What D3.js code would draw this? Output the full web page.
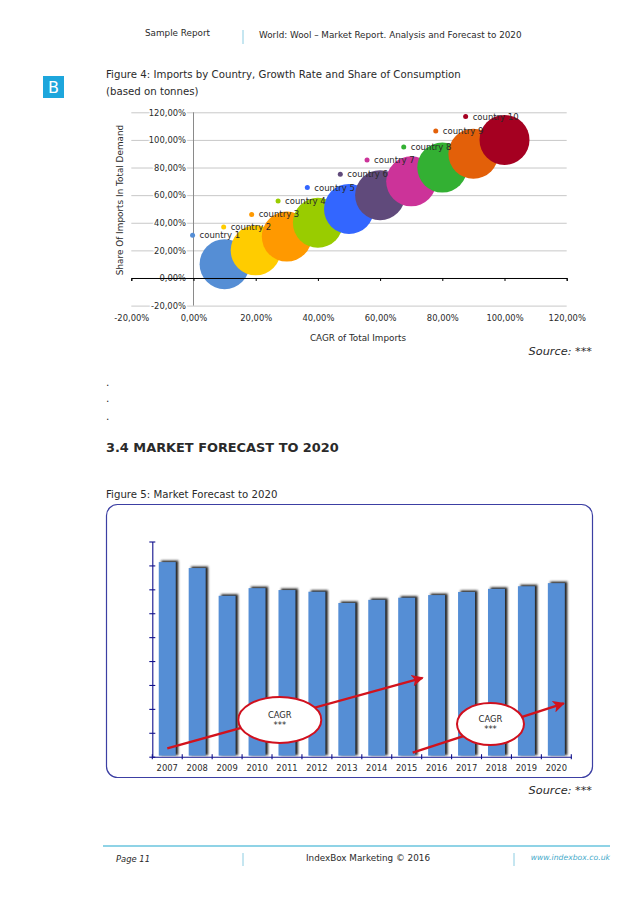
<!DOCTYPE html>
<html>
<head>
<meta charset="utf-8">
<script src="https://cdn.jsdelivr.net/npm/d3@7"></script>
<style>
html,body{margin:0;padding:0;background:#fff}
svg{display:block}
text{font-family:"DejaVu Sans",sans-serif;fill:#2a2a2a}
</style>
</head>
<body>
<script>
// bubble chart
var countries = ["country 1","country 2","country 3","country 4","country 5","country 6","country 7","country 8","country 9","country 10"];
var cagrImports = [10,20,30,40,50,60,70,80,90,100];
var shareDemand = [10,20,30,40,50,60,70,80,90,100];
var labelX = [-0.3,9.7,18.7,27.2,36.6,47.2,55.8,67.6,77.9,87.5];
var labelY = [31,37,46,55.7,65.5,75.2,85.4,94.8,106.5,116.9];
var bubbleColors = ["#558ed5","#ffcc00","#ff9900","#99cc00","#3366ff","#604a7b","#cc3399","#33b033","#e36009","#a50021"];
var pctTicks = [-20,0,20,40,60,80,100,120];

// forecast chart
var years = [2007,2008,2009,2010,2011,2012,2013,2014,2015,2016,2017,2018,2019,2020];
var volumes = [8.14,7.89,6.73,7.05,6.97,6.9,6.43,6.56,6.65,6.76,6.89,7.02,7.13,7.26];
var volumeTicks = [0,1,2,3,4,5,6,7,8,9];
var cagrArrowYears = [[2007,2015.53],[2015.2,2020.25]];
var cagrArrowValues = [[0.35,3.3],[0.17,2.23]];
var cagrBadgeYears = [2010.76,2017.8];
var cagrBadgeValues = [1.54,1.37];

var svg = d3.select("body").append("svg").attr("width",638).attr("height",903);

function txt(x,y,s,size,o){
    o = o||{};
    return svg.append("text").attr("x",x).attr("y",y).text(s)
        .style("font-size",size+"px")
        .style("font-style",o.italic?"italic":null)
        .style("font-weight",o.bold?"bold":null)
        .style("fill",o.fill||null)
        .attr("text-anchor",o.anchor||"start");
}
function sep(x,y1,y2){
    svg.append("line").attr("x1",x).attr("x2",x).attr("y1",y1).attr("y2",y2).attr("stroke","#8ccde2").attr("stroke-width",1);
}

// page furniture
txt(145,36,"Sample Report",8.8);
sep(243,30,44);
txt(259,38,"World: Wool – Market Report. Analysis and Forecast to 2020",8.8);
svg.append("rect").attr("x",43).attr("y",76).attr("width",21).attr("height",22).attr("fill","#1da6dc");
txt(53.5,93,"B",16,{anchor:"middle",fill:"#fff"});
txt(106,78,"Figure 4: Imports by Country, Growth Rate and Share of Consumption",10.2);
txt(106,95,"(based on tonnes)",10.2);
txt(592,355,"Source: ***",11.3,{anchor:"end",italic:true});
txt(106,386,".",10.5);
txt(106,402,".",10.5);
txt(106,420,".",10.5);
txt(106,452,"3.4 MARKET FORECAST TO 2020",12.9,{bold:true});
txt(106,498,"Figure 5: Market Forecast to 2020",10.2);
txt(592,794,"Source: ***",11.3,{anchor:"end",italic:true});
svg.append("line").attr("x1",103).attr("x2",610).attr("y1",846).attr("y2",846).attr("stroke","#8fd3e6").attr("stroke-width",2);
txt(116,862,"Page 11",8.4,{italic:true});
sep(243,853,866);
txt(368,861,"IndexBox Marketing © 2016",8.8,{anchor:"middle"});
sep(514,853,866);
txt(610,860,"www.indexbox.co.uk",7.7,{anchor:"end",italic:true,fill:"#3fa9c9"});

// ---- figure 4
var x = d3.scaleLinear().domain([-20,120]).range([131.3,566.7]);
var y = d3.scaleLinear().domain([-20,120]).range([305.6,112.3]);
var pct = function(d){return d.toFixed(2).replace(".",",")+"%"};

var grid = svg.append("g").attr("transform","translate("+x(-20)+",0)")
    .call(d3.axisLeft(y).tickValues(pctTicks).tickSize(-(x(120)-x(-20))).tickFormat(""));
grid.select(".domain").remove();
grid.selectAll("line").attr("stroke","#c8c8c8");

svg.append("line").attr("x1",x(0)).attr("x2",x(0)).attr("y1",y(120)).attr("y2",y(-20)).attr("stroke","#8a8a8a");

var yLabels = svg.append("g").attr("transform","translate("+(x(0)-7.5)+",0)")
    .call(d3.axisLeft(y).tickValues(pctTicks).tickSize(0).tickFormat(pct));
yLabels.select(".domain").remove();
yLabels.selectAll("text").style("font-size","8.4px").attr("x",0)
    .style("paint-order","stroke").style("stroke","#fff").style("stroke-width","3px");

var xLabels = svg.append("g").attr("transform","translate(0,"+(y(-20)+6)+")")
    .call(d3.axisBottom(x).tickValues(pctTicks).tickSize(0).tickFormat(pct));
xLabels.select(".domain").remove();
xLabels.selectAll("text").style("font-size","8.4px");

svg.selectAll("circle.bubble").data(countries).enter().append("circle").attr("class","bubble")
    .attr("cx",function(d,i){return x(cagrImports[i])})
    .attr("cy",function(d,i){return y(shareDemand[i])})
    .attr("r",25)
    .attr("fill",function(d,i){return bubbleColors[i]});

var xAxis = svg.append("g").attr("transform","translate(0,"+y(0)+")")
    .call(d3.axisBottom(x).tickValues(pctTicks).tickSize(3).tickSizeOuter(3).tickFormat(""));
xAxis.selectAll("path,line").attr("stroke","#000");

svg.selectAll("circle.dot").data(countries).enter().append("circle").attr("class","dot")
    .attr("cx",function(d,i){return x(labelX[i])})
    .attr("cy",function(d,i){return y(labelY[i])})
    .attr("r",2.5)
    .attr("fill",function(d,i){return bubbleColors[i]});
svg.selectAll("text.lab").data(countries).enter().append("text").attr("class","lab")
    .attr("x",function(d,i){return x(labelX[i])+7})
    .attr("y",function(d,i){return y(labelY[i])+3})
    .style("font-size","8.5px")
    .text(function(d){return d});

svg.append("text").attr("transform","translate(123,200) rotate(-90)").attr("text-anchor","middle")
    .style("font-size","8.9px").text("Share Of Imports In Total Demand");
txt(358,341,"CAGR of Total Imports",8.8,{anchor:"middle"});

// ---- figure 5
svg.append("rect").attr("x",106.5).attr("y",504.5).attr("width",486).attr("height",273).attr("rx",11)
    .attr("fill","#fff").attr("stroke","#3c3fa3").attr("stroke-width",1.2);

var defs = svg.append("defs");
defs.append("filter").attr("id","soft").attr("x","-30%").attr("y","-5%").attr("width","160%").attr("height","110%")
    .append("feGaussianBlur").attr("stdDeviation",1.1);
defs.append("marker").attr("id","head").attr("viewBox","0 0 10 10").attr("refX",9).attr("refY",5)
    .attr("markerWidth",12).attr("markerHeight",12).attr("markerUnits","userSpaceOnUse").attr("orient","auto")
    .append("path").attr("d","M0,0L10,5L0,10L2.5,5Z").attr("fill","#d2121c");

var bx = d3.scaleBand().domain(years).range([152.3,571.3]);
var vy = d3.scaleLinear().domain([0,9]).range([756.7,541.5]);
var yearPos = d3.scaleLinear().domain([2007,2020]).range([bx(2007)+bx.bandwidth()/2,bx(2020)+bx.bandwidth()/2]);
var barW = 17;

svg.selectAll("rect.shade").data(years).enter().append("rect").attr("class","shade")
    .attr("x",function(d){return bx(d)+(bx.bandwidth()-barW)/2+2.5})
    .attr("y",function(d,i){return vy(volumes[i])-1.5})
    .attr("width",barW)
    .attr("height",function(d,i){return vy(0)-vy(volumes[i])})
    .attr("fill","#222")
    .attr("filter","url(#soft)");
svg.selectAll("rect.bar").data(years).enter().append("rect").attr("class","bar")
    .attr("x",function(d){return bx(d)+(bx.bandwidth()-barW)/2})
    .attr("y",function(d,i){return vy(volumes[i])})
    .attr("width",barW)
    .attr("height",function(d,i){return vy(0)-vy(volumes[i])-1})
    .attr("fill","#558ed5");

var vAxis = svg.append("g").attr("transform","translate("+bx(2007)+",0)")
    .call(d3.axisLeft(vy).tickValues(volumeTicks).tickSizeInner(3).tickSizeOuter(0).tickFormat(""));
vAxis.selectAll("line").attr("x2",3).attr("x1",-3);
vAxis.selectAll("path,line").attr("stroke","#10108c").attr("stroke-width",1.1);

var bAxis = svg.append("g").attr("transform","translate(0,"+vy(0)+")")
    .call(d3.axisBottom(bx).tickSize(0).tickFormat(function(d){return d}));
bAxis.select(".domain").attr("stroke","#10108c").attr("stroke-width",1.1);
bAxis.selectAll("text").style("font-size","8.4px").attr("y",8);
// boundary ticks between the years
svg.append("g").selectAll("line").data(d3.range(15)).enter().append("line")
    .attr("x1",function(i){return 152.3+i*bx.step()})
    .attr("x2",function(i){return 152.3+i*bx.step()})
    .attr("y1",vy(0)-2.5).attr("y2",vy(0)+2.5)
    .attr("stroke","#10108c").attr("stroke-width",1.1);

// arrows and badges
svg.selectAll("line.arrow").data(cagrArrowYears).enter().append("line").attr("class","arrow")
    .attr("x1",function(d){return yearPos(d[0])})
    .attr("x2",function(d){return yearPos(d[1])})
    .attr("y1",function(d,i){return vy(cagrArrowValues[i][0])})
    .attr("y2",function(d,i){return vy(cagrArrowValues[i][1])})
    .attr("stroke","#d2121c").attr("stroke-width",2.3)
    .attr("marker-end","url(#head)");

var badgeRx = [41.5,33.5], badgeRy = [23,21];
cagrBadgeYears.forEach(function(yr,i){
    var cx = yearPos(yr), cy = vy(cagrBadgeValues[i]);
    svg.append("ellipse").attr("cx",cx).attr("cy",cy).attr("rx",badgeRx[i]).attr("ry",badgeRy[i])
        .attr("fill","#fff").attr("stroke","#d0101e").attr("stroke-width",2);
    txt(cx,cy-2,"CAGR",8.4,{anchor:"middle"});
    txt(cx,cy+8,"***",8.4,{anchor:"middle"});
});
</script>
</body>
</html>
